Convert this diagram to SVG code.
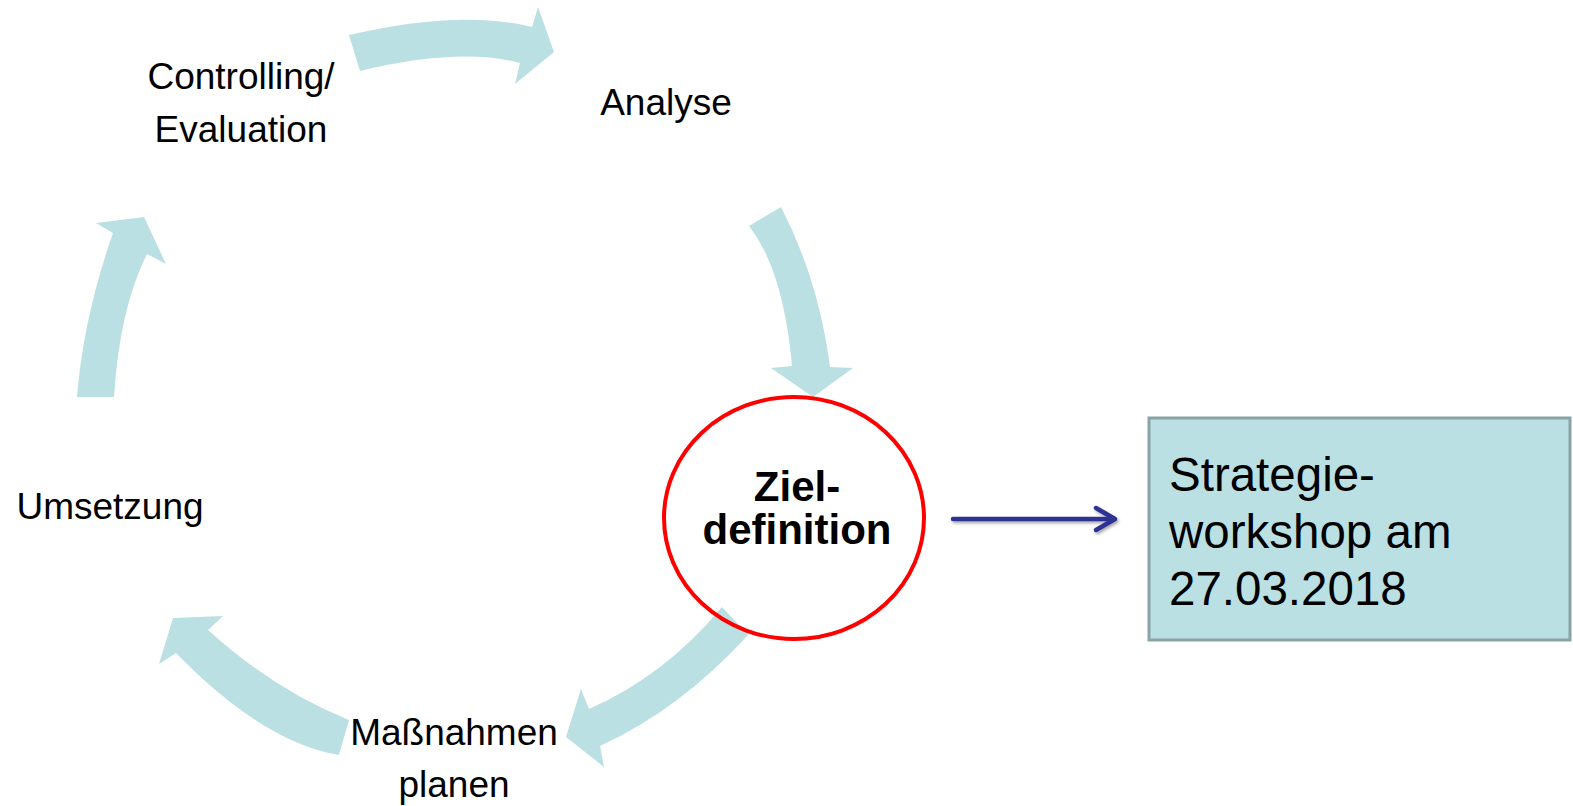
<svg xmlns="http://www.w3.org/2000/svg" width="1573" height="806" viewBox="0 0 1573 806">
<style>
.cyc{fill:#BBE0E3;stroke:none}
.lbl{font-family:"Liberation Sans",Arial,sans-serif;font-size:37px;fill:#000;text-anchor:middle}
.bold{font-family:"Liberation Sans",Arial,sans-serif;font-size:42px;font-weight:bold;fill:#000;text-anchor:middle}
.box{font-family:"Liberation Sans",Arial,sans-serif;font-size:47.5px;fill:#000}
</style>
<defs>
<filter id="sh" x="-10%" y="-100%" width="120%" height="300%">
<feDropShadow dx="1.5" dy="2" stdDeviation="1.5" flood-color="#000" flood-opacity="0.35"/>
</filter>
</defs>
<rect width="1573" height="806" fill="#fff"/>
<g id="connectors">
<path id="arrow-top" class="cyc" d="M349,35 Q460,9 532,27 L538,7 L554,52 L515,84 L520,63 Q460,47 360,71 Z"/>
<path id="arrow-right" class="cyc" d="M749,226 L781,207 Q818.5,279 830,367 L853,368 L813,397 L771,368 L792,366 Q783.5,270 749,226 Z"/>
<path id="arrow-bottomright" class="cyc" d="M722,607 L748,635 Q680,709.5 600,746 L604,767 L566,737 L581,689 L589,709 Q664.5,676 722,607 Z"/>
<path id="arrow-bottomleft" class="cyc" d="M349,720 Q275.5,691 208,630 L223,616 L173,618 L159,664 L176,653 Q262.5,742 339,755 Z"/>
<path id="arrow-left" class="cyc" d="M77,397 L114,397 Q119.5,308.5 147,254 L166,264 L144,217 L96,223 L113,233 Q83,319 77,397 Z"/>
<g id="arrow-to-box" filter="url(#sh)" stroke="#2E3192" stroke-width="4.5" fill="none" stroke-linecap="round" stroke-linejoin="round">
<line x1="953" y1="519" x2="1114" y2="519"/>
<polyline points="1096,508 1115,519 1096,530"/>
</g>
</g>
<g id="node-controlling">
<text class="lbl" x="241" y="89">Controlling/</text>
<text class="lbl" x="241" y="142">Evaluation</text>
</g>
<g id="node-analyse">
<text class="lbl" x="666" y="115">Analyse</text>
</g>
<g id="node-umsetzung">
<text class="lbl" x="110" y="519">Umsetzung</text>
</g>
<g id="node-massnahmen">
<text class="lbl" x="454" y="745">Maßnahmen</text>
<text class="lbl" x="454" y="797">planen</text>
</g>
<g id="node-zieldefinition">
<ellipse cx="794" cy="518" rx="130" ry="121" fill="none" stroke="#FF0000" stroke-width="4"/>
<text class="bold" x="797" y="501">Ziel-</text>
<text class="bold" x="797" y="544">definition</text>
</g>
<g id="node-strategieworkshop">
<rect x="1149" y="418" width="421" height="222" fill="#BBE0E3" stroke="#8AA3A6" stroke-width="3"/>
<text class="box" x="1169" y="491">Strategie-</text>
<text class="box" x="1169" y="548">workshop am</text>
<text class="box" x="1169" y="605">27.03.2018</text>
</g>
</svg>
